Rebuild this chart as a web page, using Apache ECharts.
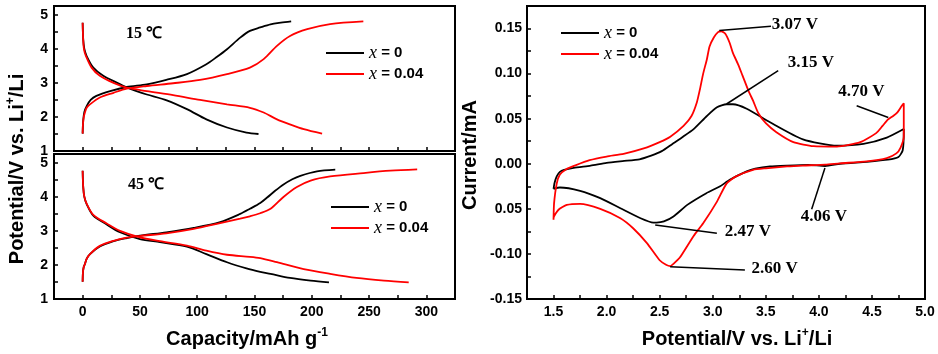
<!DOCTYPE html>
<html lang="en">
<head>
    <meta charset="UTF-8">
    <title>Charge-discharge and CV curves</title>
    <script src="https://cdn.jsdelivr.net/npm/echarts@6/dist/echarts.min.js"></script>
    <style>
        html, body { margin: 0; padding: 0; background: #fff; }
        #chart { width: 938px; height: 354px; }
    </style>
</head>
<body>
    <div id="chart"></div>
    <script>
        // series names
        const names = ['x = 0', 'x = 0.04'];

        // 15 C charge / discharge, [capacity mAh/g, potential V]
        const chg15_x0 = [[0,1.51],[0.5,1.9],[1.5,2.15],[3.5,2.32],[7,2.5],[12,2.62],[24,2.76],[38.5,2.88],[56,2.96],[73,3.09],[91,3.26],[108,3.55],[117,3.76],[126,3.99],[137.5,4.33],[146,4.53],[155,4.63],[164,4.72],[173,4.77],[182,4.81]];
        const dis15_x0 = [[0,4.77],[0.5,4.28],[1.5,4.0],[3.5,3.79],[9.3,3.45],[18,3.21],[29.7,3.01],[38.5,2.87],[47,2.76],[56,2.66],[73.4,2.49],[91,2.23],[108,1.93],[126,1.69],[143,1.54],[153.5,1.50]];
        const chg15_x4 = [[0,1.51],[0.3,1.8],[1,2.0],[2,2.13],[3.5,2.27],[6.4,2.37],[15,2.57],[27,2.71],[38.5,2.83],[56,2.91],[79,2.99],[102.5,3.09],[126,3.26],[146,3.45],[158,3.70],[169.6,4.09],[181,4.38],[196,4.58],[216,4.73],[245,4.81]];
        const dis15_x4 = [[0,4.77],[0.5,4.25],[1.2,3.98],[2.9,3.79],[7.8,3.45],[15,3.21],[27,3.0],[38.5,2.86],[56,2.76],[79,2.64],[102.5,2.50],[126,2.37],[146,2.27],[158,2.13],[169.6,1.93],[181,1.78],[193,1.64],[209,1.51]];

        // 45 C charge / discharge
        const chg45_x0 = [[0,1.51],[0.3,1.8],[1,1.95],[2,2.03],[3.5,2.18],[6.4,2.32],[15,2.54],[27,2.70],[38.5,2.79],[50,2.86],[73,2.96],[97,3.09],[120,3.26],[137.5,3.50],[146,3.65],[155,3.82],[161,3.98],[168,4.18],[175,4.36],[183,4.52],[190,4.62],[204.5,4.75],[220.5,4.80]];
        const dis45_x0 = [[0,4.77],[0.5,4.29],[1.5,4.0],[3.5,3.79],[9.3,3.45],[21,3.19],[32.6,2.96],[50,2.76],[67.5,2.67],[91,2.54],[108,2.32],[126,2.08],[143,1.9],[155,1.8],[164,1.74],[181,1.62],[199,1.54],[215,1.49]];
        const chg45_x4 = [[0,1.51],[0.3,1.8],[1,1.95],[2,2.03],[3.5,2.18],[6.4,2.32],[15,2.56],[27,2.71],[38.5,2.80],[50,2.85],[73,2.93],[97,3.06],[120,3.23],[137.5,3.36],[146,3.43],[155,3.52],[164,3.65],[175,3.99],[187,4.29],[199,4.48],[216,4.60],[245,4.70],[268.6,4.77],[292,4.81]];
        const dis45_x4 = [[0,4.77],[0.5,4.29],[1.5,4.0],[3.5,3.8],[9.3,3.47],[21,3.22],[32.6,3.0],[50,2.81],[67.5,2.70],[91,2.57],[108,2.42],[126,2.30],[146,2.24],[155,2.20],[169.6,2.08],[193,1.88],[216,1.74],[239,1.62],[263,1.54],[284.6,1.49]];

        // CV loops, [potential V, current mA]
        const cv_x0 = [[1.5,-0.0278],[1.51,-0.021],[1.53,-0.014],[1.56,-0.009],[1.6,-0.0068],[1.69,-0.0045],[1.85,-0.002],[2.0,0.001],[2.15,0.003],[2.31,0.005],[2.42,0.009],[2.52,0.014],[2.62,0.022],[2.72,0.030],[2.82,0.0385],[2.945,0.053],[3.04,0.0626],[3.13,0.066],[3.19,0.066],[3.32,0.061],[3.54,0.046],[3.85,0.027],[4.17,0.020],[4.42,0.022],[4.64,0.029],[4.8,0.0385],
                       [4.8,0.037],[4.79,0.015],[4.75,0.0075],[4.65,0.0045],[4.45,0.0022],[4.2,0.0],[4.06,-0.0025],[3.9,-0.0012],[3.7,-0.002],[3.54,-0.003],[3.4,-0.0055],[3.32,-0.0085],[3.16,-0.0178],[3.07,-0.025],[2.94,-0.0326],[2.76,-0.0456],[2.63,-0.0585],[2.54,-0.064],[2.47,-0.0652],[2.44,-0.0652],[2.32,-0.0604],[2.13,-0.0493],[1.94,-0.0381],[1.75,-0.03],[1.56,-0.0263],[1.5,-0.0278]];
        const cv_x4 = [[1.5,-0.062],[1.505,-0.044],[1.53,-0.022],[1.56,-0.012],[1.62,-0.006],[1.7,-0.002],[1.84,0.004],[2.0,0.008],[2.16,0.011],[2.35,0.017],[2.5,0.024],[2.6,0.030],[2.725,0.042],[2.80,0.053],[2.85,0.068],[2.88,0.083],[2.91,0.10],[2.945,0.116],[2.97,0.13],[3.01,0.140],[3.05,0.146],[3.08,0.147],[3.12,0.144],[3.16,0.134],[3.19,0.123],[3.24,0.11],[3.28,0.098],[3.34,0.08],[3.38,0.07],[3.43,0.056],[3.5,0.045],[3.6,0.035],[3.76,0.024],[3.95,0.0195],[4.17,0.019],[4.39,0.024],[4.54,0.034],[4.6,0.042],[4.65,0.049],[4.7,0.053],[4.74,0.057],[4.78,0.064],[4.80,0.067],
                       [4.80,0.06],[4.80,0.03],[4.77,0.018],[4.73,0.0115],[4.64,0.0063],[4.45,0.0026],[4.2,0.0005],[4.06,-0.001],[3.85,-0.002],[3.70,-0.003],[3.5,-0.005],[3.38,-0.0067],[3.22,-0.014],[3.13,-0.022],[3.04,-0.042],[2.91,-0.066],[2.82,-0.08],[2.69,-0.104],[2.63,-0.111],[2.60,-0.1135],[2.56,-0.112],[2.50,-0.107],[2.38,-0.088],[2.25,-0.0715],[2.13,-0.0604],[1.94,-0.05],[1.75,-0.0444],[1.625,-0.0456],[1.547,-0.051],[1.5,-0.0604],[1.5,-0.062]];

        // peak labels and arrows on the CV panel
        const peakLabels = [
            { name: '3.07 V', coord: [3.774, 0.1544] },
            { name: '3.15 V', coord: [3.925, 0.1126] },
            { name: '4.70 V', coord: [4.401, 0.080] },
            { name: '4.06 V', coord: [4.048, -0.0585] },
            { name: '2.47 V', coord: [3.331, -0.0752] },
            { name: '2.60 V', coord: [3.583, -0.1159] }
        ];
        const peakArrows = [
            [[3.062, 0.1478], [3.549, 0.1526]],
            [[3.13, 0.0663], [3.617, 0.1033]],
            [[4.654, 0.0514], [4.356, 0.0644]],
            [[4.057, -0.0048], [3.932, -0.0504]],
            [[2.458, -0.0678], [3.039, -0.077]],
            [[2.599, -0.1141], [3.303, -0.1178]]
        ];
        const tempLabels = [
            { name: '15 \u2103', coord: [53.6, 4.43] },
            { name: '45 \u2103', coord: [55.3, 4.35] }
        ];

        const BLACK = '#000000';
        const RED = '#ff0000';
        const SANS = 'Liberation Sans, Arial, sans-serif';
        const SERIF = 'Liberation Serif, Times New Roman, serif';

        const chart = echarts.init(document.getElementById('chart'), null, { renderer: 'canvas' });

        const tickLabel = { color: BLACK, fontFamily: SANS, fontWeight: 'bold', fontSize: 14 };
        const frameLine = { show: true, onZero: false, lineStyle: { color: BLACK, width: 2 } };
        const inTick = { show: true, inside: true, length: 4, lineStyle: { color: BLACK, width: 1.5 } };

        function capAxis(grid, showLabels) {
            return {
                type: 'value', gridIndex: grid, min: -25, max: 325, interval: 25,
                axisLine: frameLine, axisTick: inTick,
                axisLabel: Object.assign({
                    show: showLabels, margin: 6,
                    formatter: v => (v >= 0 && Math.round(v) % 50 === 0) ? String(Math.round(v)) : ''
                }, tickLabel),
                splitLine: { show: false }
            };
        }
        function potAxis(grid) {
            return {
                type: 'value', gridIndex: grid, min: 1, max: 5.26, interval: 0.5,
                axisLine: frameLine, axisTick: inTick,
                axisLabel: Object.assign({
                    margin: 6,
                    formatter: v => Math.abs(v - Math.round(v)) < 1e-6 ? String(Math.round(v)) : ''
                }, tickLabel),
                splitLine: { show: false }
            };
        }

        function curve(name, data, color, xi) {
            return {
                name: name, type: 'line', xAxisIndex: xi, yAxisIndex: xi,
                data: data, symbol: 'none', smooth: 0.3,
                lineStyle: { color: color, width: 1.8 }, itemStyle: { color: color },
                silent: true
            };
        }

        const legendText = {
            formatter: n => '{i|x}{b|' + n.slice(1) + '}',
            textStyle: {
                rich: {
                    i: { fontFamily: SERIF, fontStyle: 'italic', fontSize: 18, color: BLACK, lineHeight: 18 },
                    b: { fontFamily: SANS, fontWeight: 'bold', fontSize: 15, color: BLACK, lineHeight: 18 }
                }
            }
        };
        function legendAt(left, top) {
            return Object.assign({
                data: names, orient: 'vertical', left: left, top: top,
                icon: 'rect', itemWidth: 38, itemHeight: 2, itemGap: 3,
                selectedMode: false, padding: 0
            }, legendText);
        }

        const cvBlack = curve(names[0], cv_x0, BLACK, 2);
        cvBlack.smooth = 0.2;
        cvBlack.markLine = {
            silent: true, symbol: ['none', 'arrow'], symbolSize: [0, 11], animation: false,
            label: { show: false },
            lineStyle: { color: BLACK, width: 1.5, type: 'solid' },
            data: peakArrows.map(a => [{ coord: a[0] }, { coord: a[1] }])
        };
        cvBlack.markPoint = {
            silent: true, symbol: 'circle', symbolSize: 0, animation: false,
            label: { show: true, position: 'inside', formatter: d => d.name, fontFamily: SERIF, fontWeight: 'bold', fontSize: 17, color: BLACK },
            data: peakLabels
        };
        const cvRed = curve(names[1], cv_x4, RED, 2);
        cvRed.smooth = 0.2;

        const top15 = curve(names[0], chg15_x0, BLACK, 0);
        top15.markPoint = {
            silent: true, symbol: 'circle', symbolSize: 0, animation: false,
            label: { show: true, position: 'inside', formatter: d => d.name, fontFamily: SERIF, fontWeight: 'bold', fontSize: 16, color: BLACK },
            data: [tempLabels[0]]
        };
        const bot45 = curve(names[0], chg45_x0, BLACK, 1);
        bot45.markPoint = Object.assign({}, top15.markPoint, { data: [tempLabels[1]] });

        const supRich = {
            a: { fontFamily: SANS, fontWeight: 'bold', fontSize: 20, color: BLACK, lineHeight: 24 },
            s: { fontFamily: SANS, fontWeight: 'bold', fontSize: 12, color: BLACK, lineHeight: 24, verticalAlign: 'top', padding: [0, 0, 10, 0] }
        };

        chart.setOption({
            animation: false,
            backgroundColor: '#ffffff',
            grid: [
                { left: 54, right: 483, top: 6, height: 145, show: true, borderColor: BLACK, borderWidth: 2 },
                { left: 54, right: 483, top: 154, height: 145, show: true, borderColor: BLACK, borderWidth: 2 },
                { left: 527, right: 13, top: 6, height: 293, show: true, borderColor: BLACK, borderWidth: 2 }
            ],
            legend: [legendAt(326, 44), legendAt(331, 198), legendAt(561, 24)],
            xAxis: [
                capAxis(0, false),
                capAxis(1, true),
                {
                    type: 'value', gridIndex: 2, min: 1.25, max: 5.0, interval: 0.25,
                    axisLine: frameLine, axisTick: inTick,
                    axisLabel: Object.assign({
                        margin: 6,
                        formatter: v => (v >= 1.5 - 1e-6 && Math.abs(v * 2 - Math.round(v * 2)) < 1e-6) ? v.toFixed(1) : ''
                    }, tickLabel),
                    splitLine: { show: false }
                }
            ],
            yAxis: [
                potAxis(0),
                potAxis(1),
                {
                    type: 'value', gridIndex: 2, min: -0.15, max: 0.175, interval: 0.025,
                    axisLine: frameLine, axisTick: inTick,
                    axisLabel: Object.assign({
                        margin: 5,
                        formatter: v => {
                            const k = Math.round(v / 0.05);
                            if (Math.abs(k * 0.05 - v) > 1e-6 || k > 3) return '';
                            // the reference prints the -0.05 tick without its minus sign
                            const sign = (k < -1) ? '-' : '';
                            return sign + Math.abs(k * 0.05).toFixed(2);
                        }
                    }, tickLabel),
                    splitLine: { show: false }
                }
            ],
            graphic: [
                {
                    type: 'text', x: 17, y: 169, rotation: Math.PI / 2,
                    style: { text: '{a|Potential/V vs. Li}{s|+}{a|/Li}', rich: supRich, align: 'center', verticalAlign: 'middle' }
                },
                {
                    type: 'text', x: 247, y: 339,
                    style: { text: '{a|Capacity/mAh g}{s|-1}', rich: supRich, align: 'center', verticalAlign: 'middle' }
                },
                {
                    type: 'text', x: 737, y: 339,
                    style: { text: '{a|Potential/V vs. Li}{s|+}{a|/Li}', rich: supRich, align: 'center', verticalAlign: 'middle' }
                },
                {
                    type: 'text', x: 470, y: 155, rotation: Math.PI / 2,
                    style: { text: '{a|Current/mA}', rich: supRich, align: 'center', verticalAlign: 'middle' }
                }
            ],
            series: [
                top15,
                curve(names[0], dis15_x0, BLACK, 0),
                curve(names[1], chg15_x4, RED, 0),
                curve(names[1], dis15_x4, RED, 0),
                bot45,
                curve(names[0], dis45_x0, BLACK, 1),
                curve(names[1], chg45_x4, RED, 1),
                curve(names[1], dis45_x4, RED, 1),
                cvBlack,
                cvRed
            ]
        });
    </script>
</body>
</html>
